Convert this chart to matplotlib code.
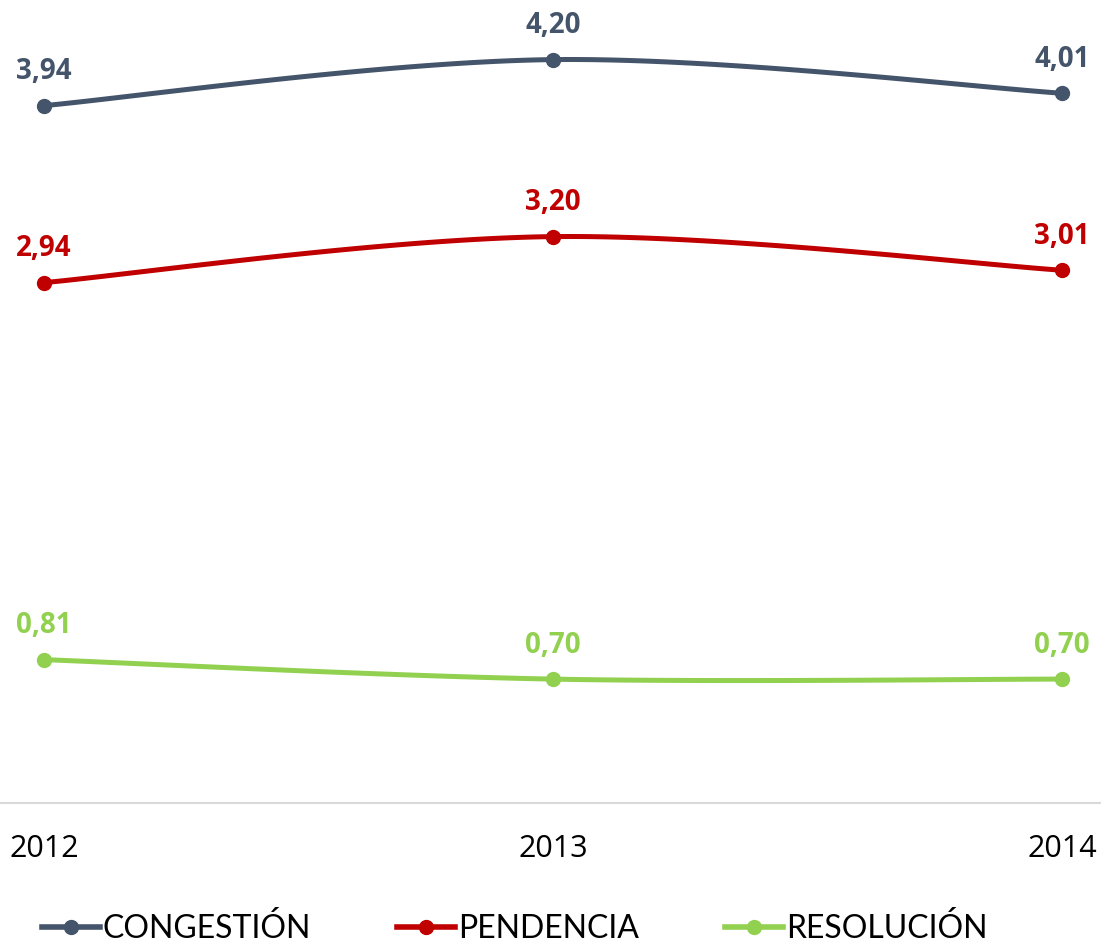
import numpy as np
import matplotlib
matplotlib.use("Agg")
import matplotlib.pyplot as plt

years = ["2012", "2013", "2014"]
congestion = [3.94, 4.20, 4.01]
pendencia = [2.94, 3.20, 3.01]
resolucion = [0.81, 0.70, 0.70]
labels_cong = ["3,94", "4,20", "4,01"]
labels_pend = ["2,94", "3,20", "3,01"]
labels_res = ["0,81", "0,70", "0,70"]
series_names = ["CONGESTIÓN", "PENDENCIA", "RESOLUCIÓN"]
colors = ["#44546A", "#C00000", "#92D050"]


def smooth(xs, ys, n=60):
    xs = np.asarray(xs, float)
    ys = np.asarray(ys, float)
    px = np.concatenate([[xs[0]], xs, [xs[-1]]])
    py = np.concatenate([[ys[0]], ys, [ys[-1]]])
    outx, outy = [], []
    for i in range(1, len(px) - 2):
        p0, p1, p2, p3 = (np.array([px[j], py[j]]) for j in range(i - 1, i + 3))
        c1 = p1 + (p2 - p0) / 6.0
        c2 = p2 - (p3 - p1) / 6.0
        t = np.linspace(0, 1, n)[:, None]
        b = ((1 - t) ** 3) * p1 + 3 * ((1 - t) ** 2) * t * c1 + 3 * (1 - t) * t ** 2 * c2 + t ** 3 * p2
        outx.extend(b[:, 0]); outy.extend(b[:, 1])
    return np.array(outx), np.array(outy)


fig = plt.figure(figsize=(11.01, 9.44), dpi=100)
ax = fig.add_axes([0, 141 / 944, 1, 796.5 / 944])
x = np.arange(len(years))

for vals, labs, col, name in zip([congestion, pendencia, resolucion],
                                 [labels_cong, labels_pend, labels_res],
                                 colors, series_names):
    sx, sy = smooth(x, vals)
    ax.plot(sx, sy, color=col, lw=3.6, solid_capstyle="round", zorder=2)
    ax.plot(x, vals, "o", color=col, ms=10, zorder=3)
    ax.plot([], [], color=col, lw=4, marker="o", ms=10, label=name)
    for xi, v, lab in zip(x, vals, labs):
        ax.annotate(lab, (xi, v), xytext=(0, 14), textcoords="offset points",
                    ha="center", va="bottom", color=col, fontsize=20,
                    fontweight="bold", family="Open Sans")

ax.set_xlim(-44 / 509, 2 + 39 / 509)
ax.set_ylim(0, 4.5)
ax.set_xticks(x)
ax.set_xticklabels(years, fontsize=22, family="Open Sans", color="#000000")
ax.tick_params(axis="x", length=0, pad=22)
ax.set_yticks([])
for s in ["top", "right", "left"]:
    ax.spines[s].set_visible(False)
ax.spines["bottom"].set_color("#D9D9D9")
ax.spines["bottom"].set_linewidth(1.5)

leg = fig.legend(loc="center left", bbox_to_anchor=(42 / 1101, 1 - 929 / 944), ncol=3,
                 frameon=False, prop={"family": "Lato", "size": 23},
                 handlelength=1.8, handletextpad=0.1, columnspacing=2.7,
                 borderaxespad=0, borderpad=0)

fig.savefig("out.png", dpi=100)
